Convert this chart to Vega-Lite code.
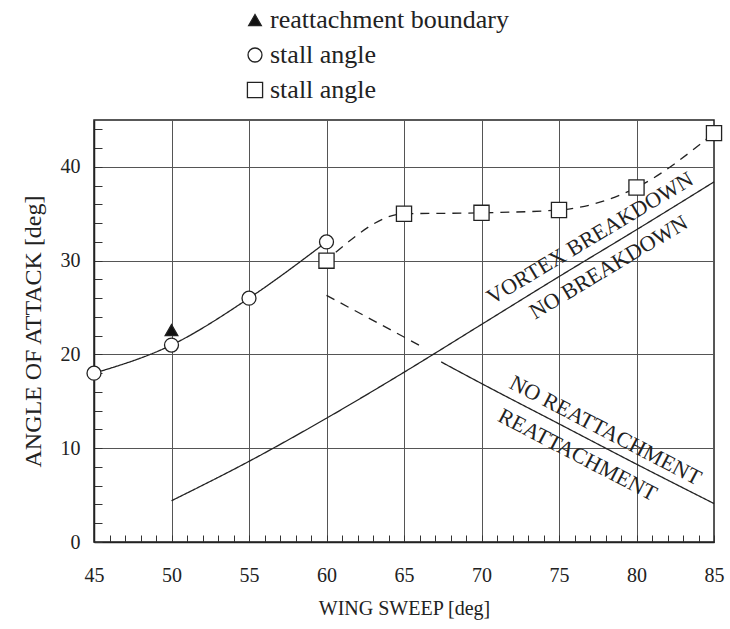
{
  "$schema": "https://vega.github.io/schema/vega-lite/v6.json",
  "width": 620,
  "height": 422,
  "autosize": {"type": "none"},
  "padding": {"left": 94, "top": 120, "right": 16, "bottom": 87},
  "background": "white",
  "config": {
    "font": "Liberation Serif",
    "view": {"stroke": "#222", "strokeWidth": 1.5},
    "axis": {
      "domainColor": "#222",
      "domainWidth": 1.5,
      "tickColor": "#333",
      "tickWidth": 1,
      "gridColor": "#555",
      "gridWidth": 1,
      "labelFont": "Liberation Serif",
      "labelFontSize": 20,
      "labelColor": "#222",
      "titleFont": "Liberation Serif",
      "titleFontSize": 20,
      "titleFontWeight": "normal",
      "titleColor": "#222",
      "labelOverlap": false,
      "labelFlush": false
    },
    "legend": {
      "labelFont": "Liberation Serif",
      "labelFontSize": 26,
      "labelColor": "#222",
      "labelLimit": 400,
      "labelOffset": 2,
      "title": null,
      "orient": "none",
      "legendX": 148,
      "legendY": -113,
      "rowPadding": 9,
      "symbolStrokeWidth": 1.3
    }
  },
  "datasets": {
    "markers": [
      {"sweep": 45, "alpha": 18, "series": "stall angle"},
      {"sweep": 50, "alpha": 21, "series": "stall angle"},
      {"sweep": 55, "alpha": 26, "series": "stall angle"},
      {"sweep": 60, "alpha": 32, "series": "stall angle"},
      {"sweep": 60, "alpha": 30, "series": "stall angle sq"},
      {"sweep": 65, "alpha": 35, "series": "stall angle sq"},
      {"sweep": 70, "alpha": 35.1, "series": "stall angle sq"},
      {"sweep": 75, "alpha": 35.4, "series": "stall angle sq"},
      {"sweep": 80, "alpha": 37.8, "series": "stall angle sq"},
      {"sweep": 85, "alpha": 43.6, "series": "stall angle sq"},
      {"sweep": 50, "alpha": 22.6, "series": "reattachment boundary"}
    ],
    "curves": [
      {"sweep": 45, "alpha": 18, "curve": "stall", "style": "solid"},
      {"sweep": 50, "alpha": 21, "curve": "stall", "style": "solid"},
      {"sweep": 55, "alpha": 26, "curve": "stall", "style": "solid"},
      {"sweep": 60, "alpha": 32, "curve": "stall", "style": "solid"},
      {"sweep": 60.6, "alpha": 30.9, "curve": "stall2", "style": "dashed"},
      {"sweep": 65, "alpha": 35, "curve": "stall2", "style": "dashed"},
      {"sweep": 70, "alpha": 35.1, "curve": "stall2", "style": "dashed"},
      {"sweep": 75, "alpha": 35.4, "curve": "stall2", "style": "dashed"},
      {"sweep": 80, "alpha": 37.8, "curve": "stall2", "style": "dashed"},
      {"sweep": 85, "alpha": 43.6, "curve": "stall2", "style": "dashed"},
      {"sweep": 50, "alpha": 4.4, "curve": "breakdown", "style": "solid"},
      {"sweep": 55, "alpha": 8.6, "curve": "breakdown", "style": "solid"},
      {"sweep": 60, "alpha": 13.2, "curve": "breakdown", "style": "solid"},
      {"sweep": 65, "alpha": 18.1, "curve": "breakdown", "style": "solid"},
      {"sweep": 70, "alpha": 23.2, "curve": "breakdown", "style": "solid"},
      {"sweep": 75, "alpha": 28.3, "curve": "breakdown", "style": "solid"},
      {"sweep": 80, "alpha": 33.3, "curve": "breakdown", "style": "solid"},
      {"sweep": 85, "alpha": 38.4, "curve": "breakdown", "style": "solid"},
      {"sweep": 60, "alpha": 26.3, "curve": "reattach_d", "style": "dashed"},
      {"sweep": 66.3, "alpha": 20.7, "curve": "reattach_d", "style": "dashed"},
      {"sweep": 67.4, "alpha": 19.2, "curve": "reattach", "style": "solid"},
      {"sweep": 70, "alpha": 16.9, "curve": "reattach", "style": "solid"},
      {"sweep": 75, "alpha": 12.6, "curve": "reattach", "style": "solid"},
      {"sweep": 80, "alpha": 8.3, "curve": "reattach", "style": "solid"},
      {"sweep": 85, "alpha": 4.1, "curve": "reattach", "style": "solid"}
    ],
    "labels": [
      {"sweep": 77, "alpha": 32.4, "text": "VORTEX BREAKDOWN", "group": "vortex"},
      {"sweep": 78.2, "alpha": 29.3, "text": "NO BREAKDOWN", "group": "vortex"},
      {"sweep": 78, "alpha": 11.9, "text": "NO REATTACHMENT", "group": "reattach"},
      {"sweep": 76.2, "alpha": 9.3, "text": "REATTACHMENT", "group": "reattach"}
    ]
  },
  "encoding": {
    "x": {
      "field": "sweep",
      "type": "quantitative",
      "scale": {"domain": [45, 85], "nice": false, "zero": false},
      "axis": {
        "title": "WING SWEEP [deg]",
        "values": [45,46,47,48,49,50,51,52,53,54,55,56,57,58,59,60,61,62,63,64,65,66,67,68,69,70,71,72,73,74,75,76,77,78,79,80,81,82,83,84,85],
        "labelExpr": "datum.value % 5 === 0 ? datum.label : ''",
        "grid": true,
        "gridOpacity": {"condition": {"test": "datum.value % 5 === 0", "value": 1}, "value": 0},
        "tickSize": -7,
        "labelPadding": 30,
        "titlePadding": 13
      }
    },
    "y": {
      "field": "alpha",
      "type": "quantitative",
      "scale": {"domain": [0, 45], "nice": false},
      "axis": {
        "title": "ANGLE OF ATTACK [deg]",
        "titleFontSize": 24,
        "values": [0,2,4,6,8,10,12,14,16,18,20,22,24,26,28,30,32,34,36,38,40,42,44],
        "labelExpr": "datum.value % 10 === 0 ? datum.label : ''",
        "grid": true,
        "gridOpacity": {"condition": {"test": "datum.value % 10 === 0", "value": 1}, "value": 0},
        "tickSize": -8,
        "labelPadding": 22,
        "titlePadding": 15
      }
    }
  },
  "layer": [
    {
      "data": {"name": "curves"},
      "mark": {"type": "line", "interpolate": "monotone", "color": "#222", "strokeWidth": 1.3},
      "encoding": {
        "detail": {"field": "curve"},
        "strokeDash": {
          "field": "style",
          "type": "nominal",
          "scale": {"domain": ["solid", "dashed"], "range": [[1, 0], [9, 7]]},
          "legend": null
        }
      }
    },
    {
      "data": {"name": "markers"},
      "mark": {"type": "point", "strokeWidth": 1.3, "opacity": 1, "filled": true},
      "encoding": {
        "shape": {
          "field": "series",
          "type": "nominal",
          "scale": {"domain": ["reattachment boundary", "stall angle", "stall angle sq"], "range": ["triangle-up", "circle", "square"]},
          "legend": {
            "labelExpr": "datum.label === 'stall angle sq' ? 'stall angle' : datum.label",
            "encode": {
              "labels": {"update": {"font": {"value": "Liberation Serif"}, "fontSize": {"value": 26}, "fill": {"value": "#222"}}},
              "symbols": {"update": {"stroke": {"value": "#222"}, "strokeWidth": {"value": 1.3}}}
            }
          }
        },
        "fill": {
          "field": "series",
          "type": "nominal",
          "scale": {"domain": ["reattachment boundary", "stall angle", "stall angle sq"], "range": ["#111", "white", "white"]},
          "legend": {
            "labelExpr": "datum.label === 'stall angle sq' ? 'stall angle' : datum.label",
            "encode": {
              "labels": {"update": {"font": {"value": "Liberation Serif"}, "fontSize": {"value": 26}, "fill": {"value": "#222"}}},
              "symbols": {"update": {"stroke": {"value": "#222"}, "strokeWidth": {"value": 1.3}}}
            }
          }
        },
        "stroke": {
          "field": "series",
          "type": "nominal",
          "scale": {"domain": ["reattachment boundary", "stall angle", "stall angle sq"], "range": ["#222", "#222", "#222"]},
          "legend": {
            "labelExpr": "datum.label === 'stall angle sq' ? 'stall angle' : datum.label",
            "encode": {
              "labels": {"update": {"font": {"value": "Liberation Serif"}, "fontSize": {"value": 26}, "fill": {"value": "#222"}}},
              "symbols": {"update": {"stroke": {"value": "#222"}, "strokeWidth": {"value": 1.3}}}
            }
          }
        },
        "size": {
          "field": "series",
          "type": "nominal",
          "scale": {"domain": ["reattachment boundary", "stall angle", "stall angle sq"], "range": [160, 230, 75]},
          "legend": {
            "labelExpr": "datum.label === 'stall angle sq' ? 'stall angle' : datum.label",
            "encode": {
              "labels": {"update": {"font": {"value": "Liberation Serif"}, "fontSize": {"value": 26}, "fill": {"value": "#222"}}},
              "symbols": {"update": {"stroke": {"value": "#222"}, "strokeWidth": {"value": 1.3}}}
            }
          }
        }
      }
    },
    {
      "data": {"name": "labels"},
      "transform": [{"filter": "datum.group === 'vortex'"}],
      "mark": {"type": "text", "angle": -31, "font": "Liberation Serif", "fontSize": 22, "color": "#222", "align": "center", "baseline": "middle"},
      "encoding": {"text": {"field": "text"}}
    },
    {
      "data": {"name": "labels"},
      "transform": [{"filter": "datum.group === 'reattach'"}],
      "mark": {"type": "text", "angle": 27.5, "font": "Liberation Serif", "fontSize": 22, "color": "#222", "align": "center", "baseline": "middle"},
      "encoding": {"text": {"field": "text"}}
    }
  ]
}
